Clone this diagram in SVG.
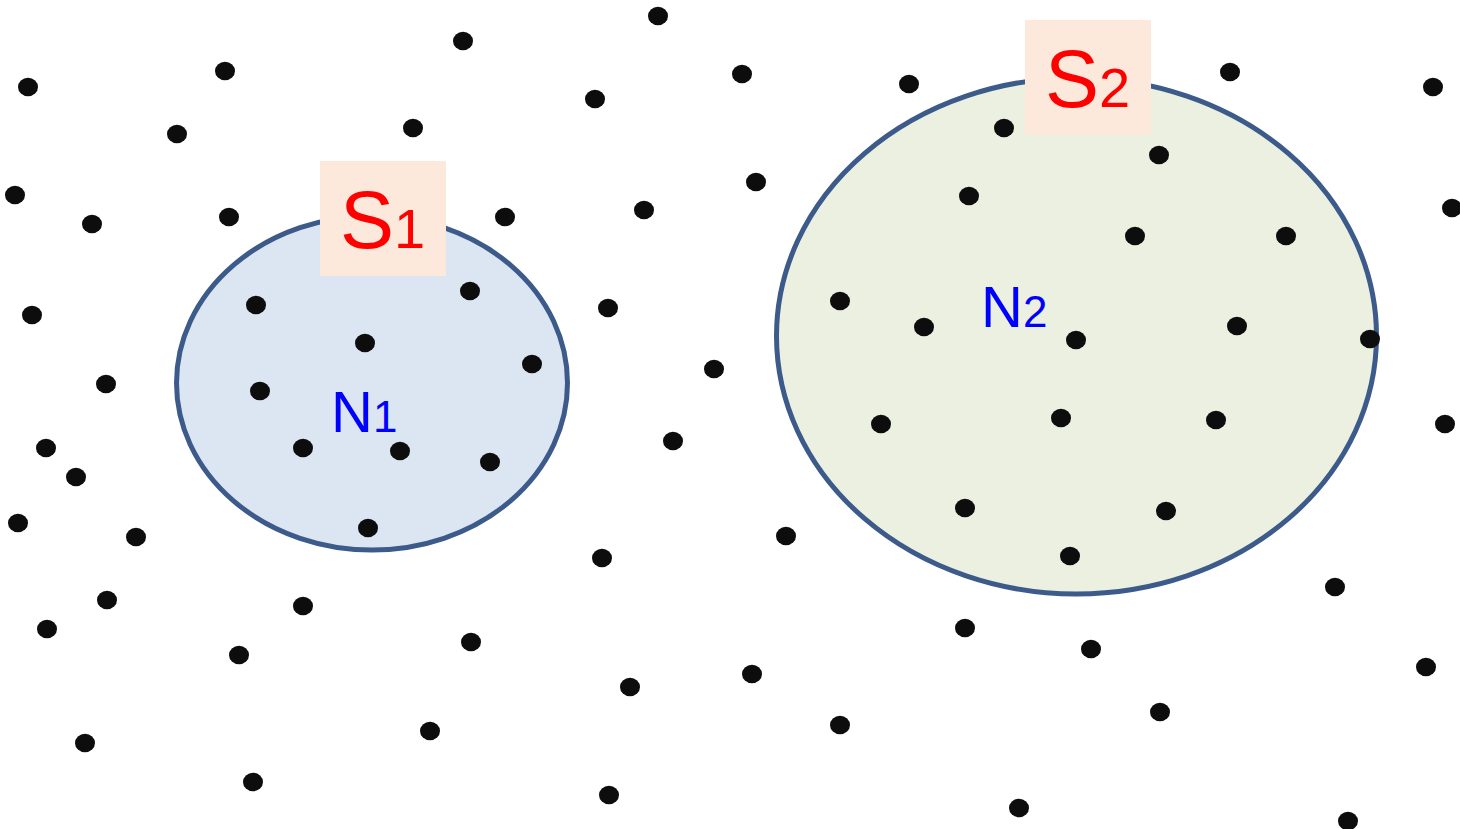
<svg xmlns="http://www.w3.org/2000/svg" width="1460" height="829" viewBox="0 0 1460 829">
<defs>
<style>
.dot{fill:#0d0d0d}
.set{stroke:#3c5a8a;stroke-width:5}
.lbox{fill:#fde9db}
.slab{font-family:"Liberation Sans",Arial,sans-serif;fill:#ff0000}
.nlab{font-family:"Liberation Sans",Arial,sans-serif;fill:#0000ff}
</style>
<symbol id="d" overflow="visible"><ellipse cx="0" cy="0" rx="10" ry="9.3"/></symbol>
</defs>
<rect width="1460" height="829" fill="#ffffff"/>
<g id="set1">
<ellipse class="set" cx="372" cy="383" rx="195.5" ry="167" fill="#dce6f2"/>
</g>
<g id="set2">
<ellipse class="set" cx="1076.5" cy="336" rx="300" ry="258" fill="#ebf0e0"/>
</g>
<g id="points" class="dot" transform="translate(0,1)">
<use href="#d" x="28" y="86"/><use href="#d" x="225" y="70"/><use href="#d" x="463" y="40"/><use href="#d" x="658" y="15"/>
<use href="#d" x="742" y="73"/><use href="#d" x="595" y="98"/><use href="#d" x="413" y="127"/><use href="#d" x="177" y="133"/>
<use href="#d" x="15" y="194"/><use href="#d" x="92" y="223"/><use href="#d" x="229" y="216"/><use href="#d" x="505" y="216"/>
<use href="#d" x="644" y="209"/><use href="#d" x="756" y="181"/><use href="#d" x="909" y="83"/><use href="#d" x="1230" y="71"/>
<use href="#d" x="1433" y="86"/><use href="#d" x="1452" y="207"/><use href="#d" x="32" y="314"/><use href="#d" x="608" y="307"/>
<use href="#d" x="106" y="383"/><use href="#d" x="714" y="368"/><use href="#d" x="46" y="447"/><use href="#d" x="76" y="476"/>
<use href="#d" x="673" y="440"/><use href="#d" x="1445" y="423"/><use href="#d" x="18" y="522"/><use href="#d" x="136" y="536"/>
<use href="#d" x="786" y="535"/><use href="#d" x="602" y="557"/><use href="#d" x="107" y="599"/><use href="#d" x="47" y="628"/>
<use href="#d" x="303" y="605"/><use href="#d" x="239" y="654"/><use href="#d" x="471" y="641"/><use href="#d" x="630" y="686"/>
<use href="#d" x="752" y="673"/><use href="#d" x="965" y="627"/><use href="#d" x="1091" y="648"/><use href="#d" x="1335" y="586"/>
<use href="#d" x="1426" y="666"/><use href="#d" x="840" y="724"/><use href="#d" x="1160" y="711"/><use href="#d" x="85" y="742"/>
<use href="#d" x="430" y="730"/><use href="#d" x="253" y="781"/><use href="#d" x="609" y="794"/><use href="#d" x="1019" y="807"/>
<use href="#d" x="1348" y="820"/>
<use href="#d" x="256" y="304"/><use href="#d" x="470" y="290"/><use href="#d" x="365" y="342"/><use href="#d" x="532" y="363"/>
<use href="#d" x="260" y="390"/><use href="#d" x="303" y="447"/><use href="#d" x="400" y="450"/><use href="#d" x="490" y="461"/>
<use href="#d" x="368" y="527"/>
<use href="#d" x="1004" y="127"/><use href="#d" x="1159" y="154"/><use href="#d" x="969" y="195"/><use href="#d" x="1135" y="235"/>
<use href="#d" x="1286" y="235"/><use href="#d" x="840" y="300"/><use href="#d" x="924" y="326"/><use href="#d" x="1076" y="339"/>
<use href="#d" x="1237" y="325"/><use href="#d" x="1370" y="338"/><use href="#d" x="881" y="423"/><use href="#d" x="1061" y="417"/>
<use href="#d" x="1216" y="419"/><use href="#d" x="965" y="507"/><use href="#d" x="1166" y="510"/><use href="#d" x="1070" y="555"/>
</g>
<g id="label-S1">
<rect class="lbox" x="320" y="161" width="126" height="115"/>
<text class="slab" x="340" y="247.5" font-size="81">S<tspan font-size="56">1</tspan></text>
</g>
<g id="label-S2">
<rect class="lbox" x="1025" y="20" width="126" height="115"/>
<text class="slab" x="1045" y="107" font-size="81">S<tspan font-size="56">2</tspan></text>
</g>
<g id="label-N1">
<text class="nlab" x="331" y="432" font-size="58">N<tspan font-size="44">1</tspan></text>
</g>
<g id="label-N2">
<text class="nlab" x="981" y="327" font-size="58">N<tspan font-size="44">2</tspan></text>
</g>
</svg>
